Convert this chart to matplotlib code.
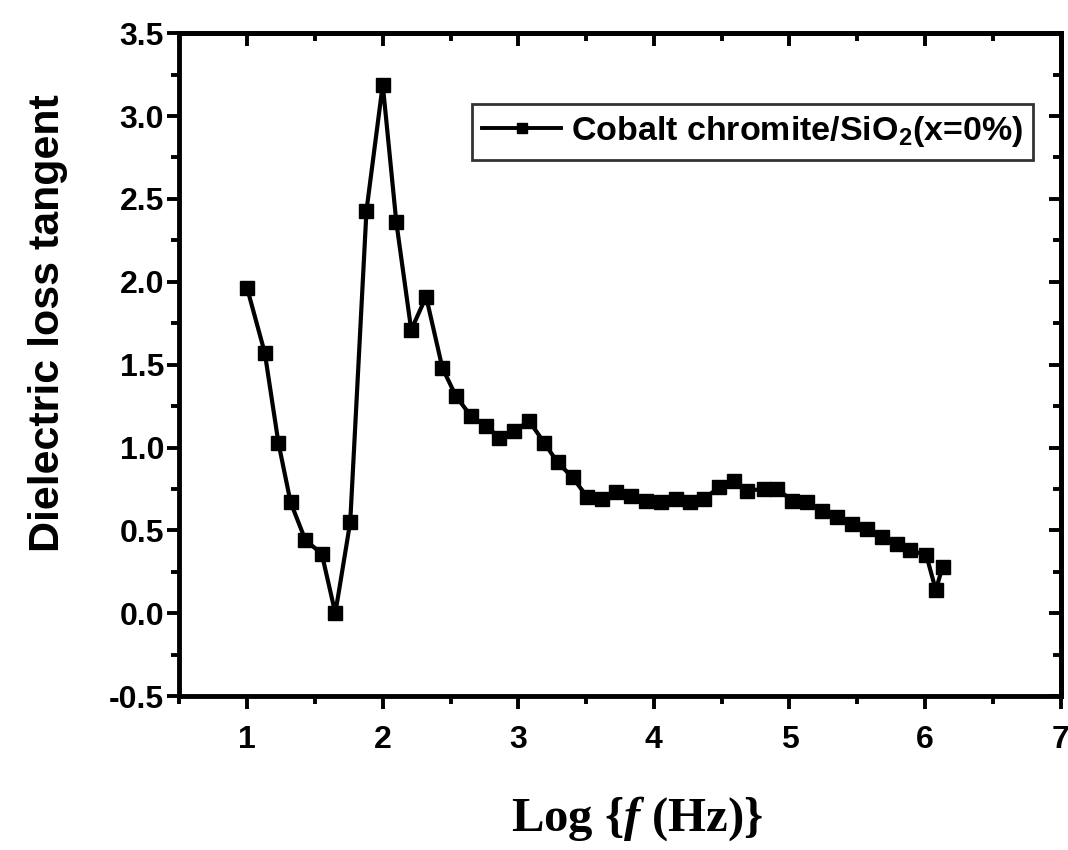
import matplotlib
matplotlib.use("Agg")
from matplotlib import pyplot as plt
from matplotlib.ticker import MultipleLocator

# log frequency and loss tangent, cobalt chromite / SiO2 (x=0%)
log_f = [1.00, 1.13, 1.23, 1.32, 1.43, 1.55, 1.65, 1.76, 1.88, 2.00,
         2.10, 2.21, 2.32, 2.44, 2.54, 2.65, 2.76, 2.86, 2.97, 3.08,
         3.19, 3.29, 3.40, 3.51, 3.62, 3.72, 3.83, 3.94, 4.05, 4.16,
         4.27, 4.37, 4.48, 4.59, 4.69, 4.81, 4.91, 5.02, 5.13, 5.24,
         5.35, 5.46, 5.57, 5.68, 5.79, 5.89, 6.01, 6.08, 6.13]
tan_delta = [1.96, 1.57, 1.03, 0.67, 0.44, 0.36, 0.00, 0.55, 2.43, 3.19,
             2.36, 1.71, 1.91, 1.48, 1.31, 1.19, 1.13, 1.06, 1.10, 1.16,
             1.03, 0.91, 0.82, 0.70, 0.69, 0.73, 0.71, 0.68, 0.67, 0.69,
             0.67, 0.69, 0.76, 0.80, 0.74, 0.75, 0.75, 0.68, 0.67, 0.62,
             0.58, 0.54, 0.51, 0.46, 0.42, 0.38, 0.35, 0.14, 0.28]
series_label = 'Cobalt chromite/SiO$_2$(x=0%)'

plt.rcParams['font.family'] = ['Liberation Sans', 'DejaVu Sans']
plt.rcParams['font.weight'] = 'bold'
plt.rcParams['axes.unicode_minus'] = False
plt.rcParams['mathtext.default'] = 'regular'
plt.rcParams['mathtext.fontset'] = 'custom'
plt.rcParams['mathtext.it'] = 'Liberation Serif:italic:bold'

fig = plt.figure(figsize=(10.68, 8.5), dpi=100)
ax = fig.add_axes([0.168, 0.181, 0.825, 0.78])

ax.plot(log_f, tan_delta, color='black', linewidth=3, marker='s',
        markersize=10.5, label=series_label)

ax.set_xlim(0.5, 7)
ax.set_ylim(-0.5, 3.5)
ax.xaxis.set_major_locator(MultipleLocator(1))
ax.xaxis.set_minor_locator(MultipleLocator(0.5))
ax.yaxis.set_major_locator(MultipleLocator(0.5))
ax.yaxis.set_minor_locator(MultipleLocator(0.25))
ax.set_xticks([1, 2, 3, 4, 5, 6, 7])
ax.set_xticklabels(['1', '2', '3', '4', '5', '6', '7'])

for s in ax.spines.values():
    s.set_linewidth(3.5)
ax.tick_params(which='major', direction='out', length=9, width=2.8,
               labelsize=23)
ax.tick_params(which='minor', direction='out', length=5.5, width=2.8)
ax.tick_params(axis='x', which='major', pad=12)
ax.tick_params(axis='y', which='major', pad=2)

# mirrored ticks pointing inwards on top and right
top = ax.secondary_xaxis('top')
top.xaxis.set_major_locator(MultipleLocator(1))
top.xaxis.set_minor_locator(MultipleLocator(0.5))
top.tick_params(which='major', direction='in', length=9, width=2.8,
                labeltop=False)
top.tick_params(which='minor', direction='in', length=5.5, width=2.8)
top.spines['top'].set_linewidth(3.5)
right = ax.secondary_yaxis('right')
right.yaxis.set_major_locator(MultipleLocator(0.5))
right.yaxis.set_minor_locator(MultipleLocator(0.25))
right.tick_params(which='major', direction='in', length=9, width=2.8,
                  labelright=False)
right.tick_params(which='minor', direction='in', length=5.5, width=2.8)
right.spines['right'].set_linewidth(3.5)

ax.set_ylabel('Dielectric loss tangent', fontsize=31, fontweight='bold')
ax.yaxis.set_label_coords(-0.127, 0.563)
ax.set_xlabel(r'Log {$\mathit{f}$ (Hz)}', fontsize=35, fontweight='bold',
              family='Liberation Serif')
ax.xaxis.set_label_coords(0.519, -0.148)

leg = ax.legend(loc='upper right', bbox_to_anchor=(0.969, 0.893),
                fontsize=24.5, frameon=True, fancybox=False, handlelength=2.3,
                borderpad=0.3, handletextpad=0.3, borderaxespad=0)
leg.get_frame().set_edgecolor('black')
leg.get_frame().set_linewidth(2)
for h in leg.legend_handles:
    h.set_markersize(7)
    h.set_linewidth(2.8)

plt.savefig('out.png', dpi=100)
